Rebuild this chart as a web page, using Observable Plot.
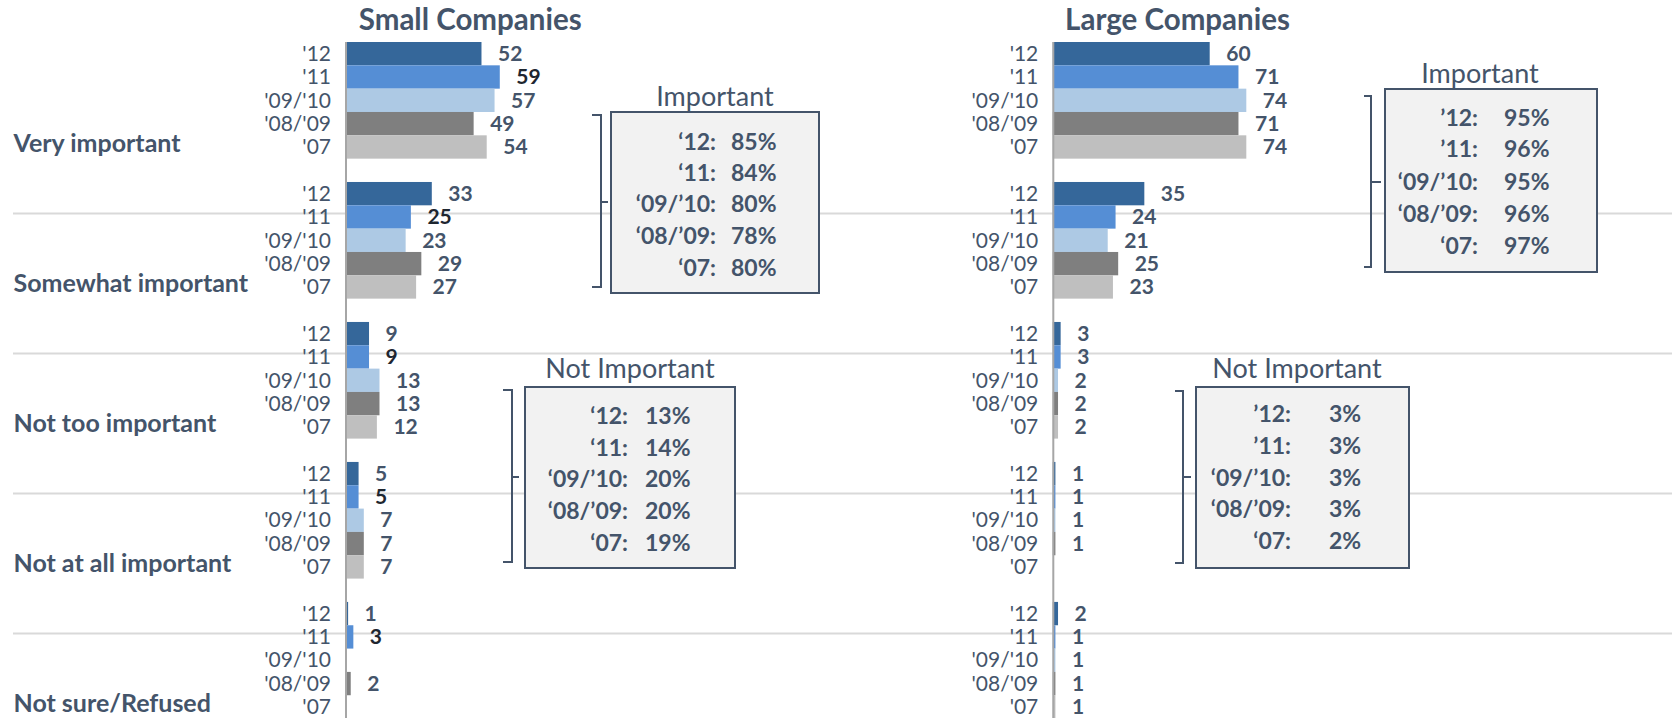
<!DOCTYPE html>
<html>
<head>
<meta charset="utf-8">
<script src="https://cdn.jsdelivr.net/npm/d3@7"></script>
<script src="https://cdn.jsdelivr.net/npm/@observablehq/plot@0.6"></script>
<style>
  html, body { margin: 0; padding: 0; background: #fff; }
  #wrap { position: relative; width: 1679px; height: 718px; overflow: hidden; font-family: Lato, sans-serif; }
  #wrap > svg { position: absolute; top: 0; }
</style>
</head>
<body>
<div id="wrap"></div>
<script>
// ---------- data ----------
const years = ["'12", "'11", "'09/'10", "'08/'09", "'07"];
const categories = ["Very important", "Somewhat important", "Not too important", "Not at all important", "Not sure/Refused"];
const yearColors = ["#35679a", "#558ed5", "#adc9e4", "#7f7f7f", "#bfbfbf"];

// rows = categories, columns = years ('12, '11, '09/'10, '08/'09, '07); null = no bar
const smallValues = [
  [52, 59, 57, 49, 54],
  [33, 25, 23, 29, 27],
  [9, 9, 13, 13, 12],
  [5, 5, 7, 7, 7],
  [1, 3, null, 2, null]
];
const largeValues = [
  [60, 71, 74, 71, 74],
  [35, 24, 21, 25, 23],
  [3, 3, 2, 2, 2],
  [1, 1, 1, 1, null],
  [2, 1, 1, 1, 1]
];

// summary boxes
const smallBoxLabels = ["\u201812:", "\u201811:", "\u201809/\u201910:", "\u201808/\u201909:", "\u201807:"];
const largeBoxLabels = ["\u201912:", "\u201911:", "\u201809/\u201910:", "\u201808/\u201909:", "\u201807:"];
const smallImportant = ["85%", "84%", "80%", "78%", "80%"];
const smallNotImportant = ["13%", "14%", "20%", "20%", "19%"];
const largeImportant = ["95%", "96%", "95%", "96%", "97%"];
const largeNotImportant = ["3%", "3%", "3%", "3%", "2%"];

// ---------- layout ----------
const TXT = "#44546a";
const ROW = 23.33, TOP = 42, GROUP = 6;
const PXU = 2.615; // px per percentage point
const wrap = document.getElementById("wrap");

function rowsOf(values) {
  const out = [];
  values.forEach((vals, c) => vals.forEach((v, yi) => {
    out.push({cat: categories[c], year: years[yi], yi, r: c * GROUP + yi, value: v});
  }));
  return out;
}

function panel({values, left, width, axisX, marginLeft, marginRight, title, showCats, darkEleven}) {
  const rows = rowsOf(values);
  const withVal = rows.filter(d => d.value != null);
  const x0 = axisX - left;
  const gridRows = categories.slice(1).map((c, i) => ({r: (i + 1) * GROUP + 1.33}));
  const marks = [
    Plot.ruleY(gridRows, {y: "r", stroke: "#d9d9d9", strokeWidth: 2}),
    Plot.rect(withVal, {x1: () => 0, x2: "value", y1: "r", y2: d => d.r + 1, fill: "year"}),
    Plot.ruleX([0], {stroke: "#a6a6a6", strokeWidth: 2}),
    Plot.text(rows, {x: () => 0, y: d => d.r + 0.5, text: "year", textAnchor: "end", dx: -15,
      fontSize: 21, fill: TXT}),
    Plot.text(withVal.filter(d => !(darkEleven && d.yi === 1)), {x: "value", y: d => d.r + 0.5, text: d => String(d.value),
      textAnchor: "start", dx: 16, fontSize: 21, fontWeight: "bold", fill: TXT}),
    Plot.text(withVal.filter(d => darkEleven && d.yi === 1), {x: "value", y: d => d.r + 0.5, text: d => String(d.value),
      textAnchor: "start", dx: 16, fontSize: 21, fontWeight: "bold", fill: "#1e2630"}),
    Plot.text([title], {x: () => 47.5, frameAnchor: "top", dy: -22, lineAnchor: "middle", text: d => d,
      textAnchor: "middle", fontSize: 29.5, fontWeight: "bold", fill: TXT})
  ];
  if (showCats) {
    marks.push(Plot.text(categories, {frameAnchor: "left", y: (d, i) => i * GROUP + 4.5, text: d => d,
      textAnchor: "start", dy: -3, fontSize: 25, fontWeight: "bold", fill: TXT}));
  }
  const svg = Plot.plot({
    width, height: 718,
    marginLeft, marginRight, marginTop: TOP, marginBottom: 0,
    x: {domain: [0, 100], range: [x0, x0 + 100 * PXU], axis: null},
    y: {domain: [0, 29], range: [TOP, TOP + 29 * ROW], axis: null},
    color: {type: "ordinal", domain: years, range: yearColors},
    style: {fontFamily: "Lato, sans-serif", background: "transparent", overflow: "visible"},
    marks
  });
  svg.style.left = left + "px";
  wrap.appendChild(svg);
}

panel({values: smallValues, left: 0, width: 900, axisX: 345.5, marginLeft: 13, marginRight: 0,
  title: "Small Companies", showCats: true, darkEleven: true});
panel({values: largeValues, left: 900, width: 779, axisX: 1052.8, marginLeft: 0, marginRight: 7,
  title: "Large Companies", showCats: false, darkEleven: false});

// ---------- summary boxes ----------
const boxes = [
  {title: "Important", labels: smallBoxLabels, vals: smallImportant, x: 611, y: 112, w: 208, h: 181,
   tx: 715, ty: 95, labelEnd: 716, valStart: 731, ly: [141, 172, 203, 235, 267],
   bx: 601, by1: 115, by2: 287, serif: 592, tick: 608, bmid: 202},
  {title: "Not Important", labels: smallBoxLabels, vals: smallNotImportant, x: 525, y: 387, w: 210, h: 181,
   tx: 630, ty: 367, labelEnd: 628, valStart: 645, ly: [415, 447, 478, 510, 542],
   bx: 512, by1: 390, by2: 562, serif: 503, tick: 519, bmid: 477},
  {title: "Important", labels: largeBoxLabels, vals: largeImportant, x: 1385, y: 89, w: 212, h: 183,
   tx: 1480, ty: 72, labelEnd: 1478, valStart: 1504, ly: [117, 148, 181, 213, 245],
   bx: 1371, by1: 96, by2: 267, serif: 1364, tick: 1381, bmid: 182},
  {title: "Not Important", labels: largeBoxLabels, vals: largeNotImportant, x: 1196, y: 387, w: 213, h: 181,
   tx: 1297, ty: 367, labelEnd: 1291, valStart: 1329, ly: [413, 445, 477, 508, 540],
   bx: 1183, by1: 391, by2: 563, serif: 1175, tick: 1191, bmid: 477}
];

const ov = d3.create("svg").attr("width", 1679).attr("height", 718)
  .style("left", "0px").style("font-family", "Lato, sans-serif");
for (const b of boxes) {
  const g = ov.append("g");
  g.append("path")
    .attr("d", `M${b.serif},${b.by1}H${b.bx}V${b.by2}H${b.serif}M${b.bx},${b.bmid}H${b.tick}`)
    .attr("fill", "none").attr("stroke", TXT).attr("stroke-width", 2);
  g.append("rect").attr("x", b.x).attr("y", b.y).attr("width", b.w).attr("height", b.h)
    .attr("fill", "#f2f2f2").attr("stroke", TXT).attr("stroke-width", 2);
  g.append("text").attr("x", b.tx).attr("y", b.ty).attr("text-anchor", "middle")
    .attr("dominant-baseline", "central").attr("font-size", 27).attr("fill", TXT).text(b.title);
  b.labels.forEach((l, i) => {
    g.append("text").attr("x", b.labelEnd).attr("y", b.ly[i]).attr("text-anchor", "end")
      .attr("dominant-baseline", "central").attr("font-size", 23).attr("font-weight", "bold")
      .attr("fill", TXT).text(l);
    g.append("text").attr("x", b.valStart).attr("y", b.ly[i]).attr("text-anchor", "start")
      .attr("dominant-baseline", "central").attr("font-size", 23).attr("font-weight", "bold")
      .attr("fill", TXT).text(b.vals[i]);
  });
}
wrap.appendChild(ov.node());
</script>
</body>
</html>
